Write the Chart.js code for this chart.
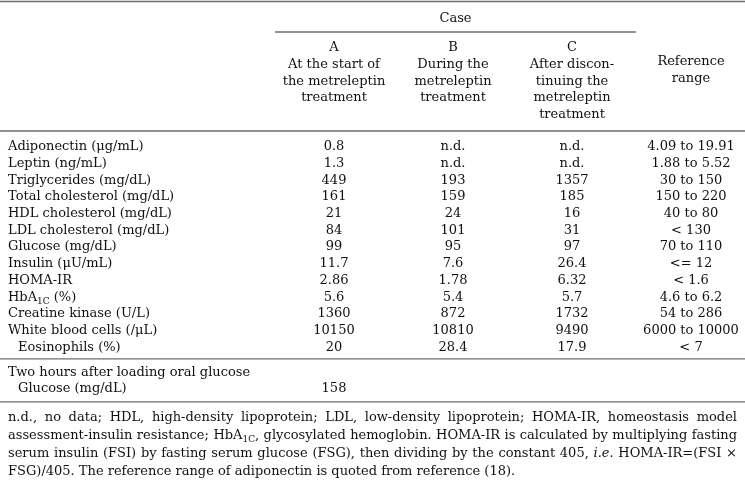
<!DOCTYPE html>
<html>
<head>
<meta charset="utf-8">
<script src="https://cdn.jsdelivr.net/npm/chart.js@4.4.0/dist/chart.umd.min.js"></script>
<style>
  html, body { margin: 0; padding: 0; background: #fff; }
  #wrap { width: 745px; height: 493px; }
</style>
</head>
<body>
<div id="wrap"><canvas id="myChart"></canvas></div>
<script>
// table content
const columns = ['A', 'B', 'C', 'Reference range'];
const columnHeads = [
  ['A', 'At the start of', 'the metreleptin', 'treatment'],
  ['B', 'During the', 'metreleptin', 'treatment'],
  ['C', 'After discon-', 'tinuing the', 'metreleptin', 'treatment'],
  ['Reference', 'range']
];
const spanTitle = 'Case';

const rowLabels = [
  'Adiponectin (μg/mL)',
  'Leptin (ng/mL)',
  'Triglycerides (mg/dL)',
  'Total cholesterol (mg/dL)',
  'HDL cholesterol (mg/dL)',
  'LDL cholesterol (mg/dL)',
  'Glucose (mg/dL)',
  'Insulin (μU/mL)',
  'HOMA-IR',
  'HbA_{1C} (%)',
  'Creatine kinase (U/L)',
  'White blood cells (/μL)',
  'Eosinophils (%)',
  'Two hours after loading oral glucose',
  'Glucose (mg/dL)'
];
const indentedRows = [12, 14];
const secondGroupStart = 13;

const caseA = ['0.8', '1.3', '449', '161', '21', '84', '99', '11.7', '2.86', '5.6', '1360', '10150', '20', null, '158'];
const caseB = ['n.d.', 'n.d.', '193', '159', '24', '101', '95', '7.6', '1.78', '5.4', '872', '10810', '28.4', null, null];
const caseC = ['n.d.', 'n.d.', '1357', '185', '16', '31', '97', '26.4', '6.32', '5.7', '1732', '9490', '17.9', null, null];
const refRange = ['4.09 to 19.91', '1.88 to 5.52', '30 to 150', '150 to 220', '40 to 80', '< 130', '70 to 110', '<= 12', '< 1.6', '4.6 to 6.2', '54 to 286', '6000 to 10000', '< 7', null, null];

const footnote = [
  'n.d., no data; HDL, high-density lipoprotein; LDL, low-density lipoprotein; HOMA-IR, homeostasis model',
  'assessment-insulin resistance; HbA_{1C}, glycosylated hemoglobin. HOMA-IR is calculated by multiplying fasting',
  'serum insulin (FSI) by fasting serum glucose (FSG), then dividing by the constant 405, *{i.e.} HOMA-IR=(FSI ×',
  'FSG)/405. The reference range of adiponectin is quoted from reference (18).'
];

const FAMILY = '"DejaVu Serif", "Liberation Serif", serif';
const BASE_FONT = '13px ' + FAMILY;
const IT_FONT = 'italic 13px ' + FAMILY;
const SUB_FONT = '9px ' + FAMILY;
const TEXT = '#111';
const RULE = '#6e6e6e';

// rows after the glucose-loading break sit half a row lower
function rowPos(i) {
  return i < secondGroupStart ? i : i + 0.5;
}

function parseRich(str) {
  const segs = [];
  str.split(/(_\{[^}]*\}|\*\{[^}]*\})/).forEach(part => {
    if (!part) return;
    if (part.startsWith('_{')) segs.push({ t: part.slice(2, -1), sub: true });
    else if (part.startsWith('*{')) segs.push({ t: part.slice(2, -1), it: true });
    else segs.push({ t: part });
  });
  return segs;
}

function segFont(s) {
  return s.sub ? SUB_FONT : (s.it ? IT_FONT : BASE_FONT);
}

function richWidth(ctx, segs) {
  let w = 0;
  segs.forEach(s => {
    ctx.font = segFont(s);
    w += ctx.measureText(s.t).width;
  });
  return w;
}

function countSpaces(segs) {
  return segs.reduce((n, s) => n + s.t.split(' ').length - 1, 0);
}

function drawRich(ctx, segs, x, y, spaceExtra = 0) {
  let cx = x;
  segs.forEach(s => {
    ctx.font = segFont(s);
    const words = s.t.split(' ');
    words.forEach((w, i) => {
      if (i > 0) cx += ctx.measureText(' ').width + spaceExtra;
      ctx.fillText(w, cx, y + (s.sub ? 4 : 0));
      cx += ctx.measureText(w).width;
    });
  });
  return cx - x;
}

function hRule(ctx, x1, x2, y) {
  ctx.beginPath();
  ctx.moveTo(x1, y);
  ctx.lineTo(x2, y);
  ctx.stroke();
}

function makePoints(values, col) {
  return values
    .map((v, i) => (v === null ? null : { x: col, y: rowPos(i), text: v }))
    .filter(Boolean);
}

const tablePlugin = {
  id: 'tableText',
  afterDatasetsDraw(chart) {
    const ctx = chart.ctx;
    const xs = chart.scales.x;
    const ys = chart.scales.y;
    const W = chart.width;
    const left = 8;
    const lineH = 16.7;

    ctx.save();
    ctx.fillStyle = TEXT;
    ctx.textBaseline = 'middle';
    ctx.textAlign = 'left';

    // row labels
    rowLabels.forEach((lab, i) => {
      const indent = indentedRows.includes(i) ? 10 : 0;
      drawRich(ctx, parseRich(lab), left + indent, ys.getPixelForValue(rowPos(i)));
    });

    // cell values, placed on the dataset points
    chart.data.datasets.forEach((ds, d) => {
      chart.getDatasetMeta(d).data.forEach((pt, k) => {
        const segs = parseRich(ds.data[k].text);
        const w = richWidth(ctx, segs);
        drawRich(ctx, segs, pt.x - w / 2, pt.y);
      });
    });

    // header
    const colX = columns.map(c => xs.getPixelForValue(columns.indexOf(c)));
    const spanL = colX[0] - 59;
    const spanR = colX[2] + 64;
    ctx.font = BASE_FONT;
    ctx.textAlign = 'center';
    ctx.fillText(spanTitle, (spanL + spanR) / 2, 19);
    columnHeads.forEach((lines, c) => {
      const startY = c === 3 ? 62 : 48;
      lines.forEach((ln, j) => ctx.fillText(ln, colX[c], startY + j * lineH));
    });

    // rules
    ctx.strokeStyle = RULE;
    ctx.lineWidth = 1.3;
    hRule(ctx, 0, W, 1.5);
    hRule(ctx, spanL, spanR, 32);
    hRule(ctx, 0, W, 131);
    hRule(ctx, 0, W, ys.getPixelForValue(secondGroupStart - 0.3));
    hRule(ctx, 0, W, ys.getPixelForValue(rowPos(rowLabels.length - 1) + 0.78));

    // footnote, justified
    ctx.textAlign = 'left';
    ctx.fillStyle = TEXT;
    const noteW = W - left - 8;
    footnote.forEach((ln, i) => {
      const segs = parseRich(ln);
      const y = 418 + i * 18;
      const natural = richWidth(ctx, segs);
      if (i === footnote.length - 1) {
        drawRich(ctx, segs, left, y);
      } else if (natural <= noteW) {
        drawRich(ctx, segs, left, y, (noteW - natural) / countSpaces(segs));
      } else {
        ctx.save();
        ctx.translate(left, 0);
        ctx.scale(noteW / natural, 1);
        drawRich(ctx, segs, 0, y);
        ctx.restore();
      }
    });

    ctx.restore();
  }
};

const allVals = [caseA, caseB, caseC, refRange];
const data = {
  datasets: allVals.map((vals, c) => ({
    label: columns[c],
    data: makePoints(vals, columns[c]),
    pointRadius: 0,
    showLine: false
  }))
};

const maxPos = rowPos(rowLabels.length - 1);

new Chart(document.getElementById('myChart'), {
  type: 'scatter',
  data: data,
  options: {
    responsive: true,
    maintainAspectRatio: false,
    animation: false,
    layout: { padding: { left: 334, right: 54, top: 138.6, bottom: 95.7 } },
    plugins: { legend: { display: false }, tooltip: { enabled: false } },
    scales: {
      x: { type: 'category', labels: columns, offset: false, display: false },
      y: { type: 'linear', reverse: true, min: -0.5, max: maxPos + 0.5, display: false }
    }
  },
  plugins: [tablePlugin]
});
</script>
</body>
</html>
